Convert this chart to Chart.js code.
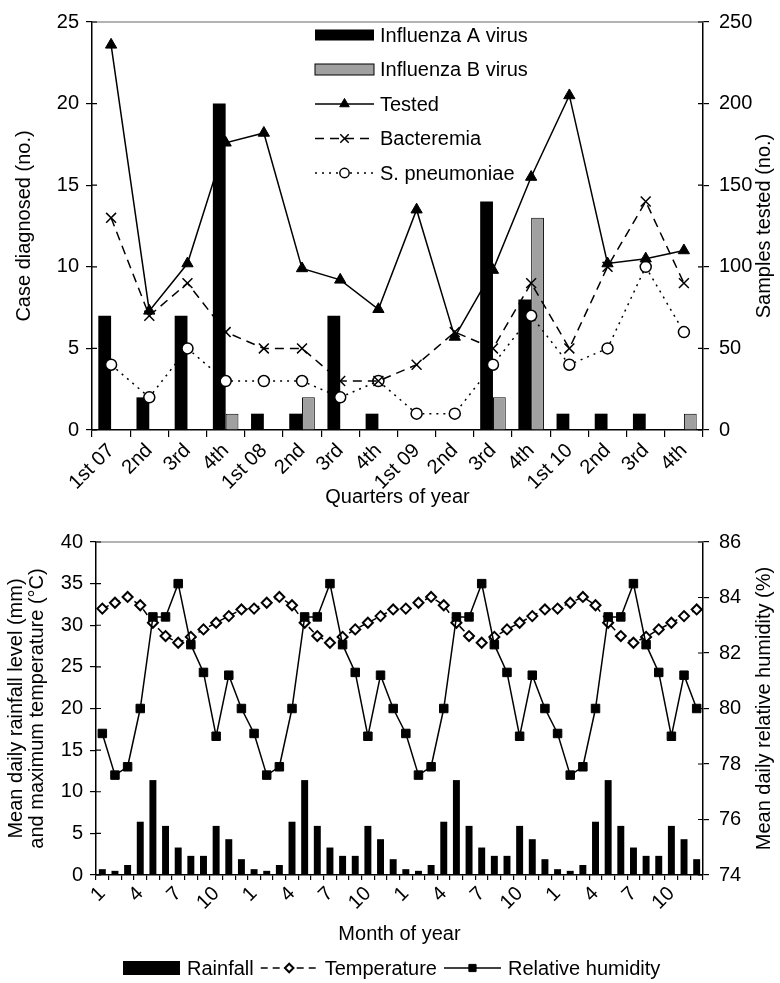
<!DOCTYPE html>
<html>
<head>
<meta charset="utf-8">
<script src="https://cdn.jsdelivr.net/npm/chart.js@4.4.0/dist/chart.umd.min.js"></script>
<style>
  body { margin: 0; background: #fff; }
  canvas { display: block; }
</style>
</head>
<body>
<canvas id="topChart" width="780" height="520"></canvas>
<canvas id="bottomChart" width="780" height="463"></canvas>
<script>
// ---- top chart data (quarters 2007-2010) ----
var quarters = ['1st 07', '2nd', '3rd', '4th', '1st 08', '2nd', '3rd', '4th', '1st 09', '2nd', '3rd', '4th', '1st 10', '2nd', '3rd', '4th'];
var fluA = [7, 2, 7, 20, 1, 1, 7, 1, 0, 0, 14, 8, 1, 1, 1, 0];
var fluB = [0, 0, 0, 1, 0, 2, 0, 0, 0, 0, 2, 13, 0, 0, 0, 1];
var tested = [236, 73, 102, 176, 182, 99, 92, 74, 135, 57, 98, 155, 205, 102, 105, 110];
var bacteremia = [13, 7, 9, 6, 5, 5, 3, 3, 4, 6, 5, 9, 5, 10, 14, 9];
var pneumoniae = [4, 2, 5, 3, 3, 3, 2, 3, 1, 1, 4, 7, 4, 5, 10, 6];

// ---- bottom chart data (months, 4 years) ----
var months = ['1', '2', '3', '4', '5', '6', '7', '8', '9', '10', '11', '12',
              '1', '2', '3', '4', '5', '6', '7', '8', '9', '10', '11', '12',
              '1', '2', '3', '4', '5', '6', '7', '8', '9', '10', '11', '12',
              '1', '2', '3', '4', '5', '6', '7', '8', '9', '10', '11', '12'];
var rainfall = [0.7, 0.5, 1.2, 6.4, 11.4, 5.9, 3.3, 2.3, 2.3, 5.9, 4.3, 1.9,
                0.7, 0.5, 1.2, 6.4, 11.4, 5.9, 3.3, 2.3, 2.3, 5.9, 4.3, 1.9,
                0.7, 0.5, 1.2, 6.4, 11.4, 5.9, 3.3, 2.3, 2.3, 5.9, 4.3, 1.9,
                0.7, 0.5, 1.2, 6.4, 11.4, 5.9, 3.3, 2.3, 2.3, 5.9, 4.3, 1.9];
var temperature = [32.0, 32.7, 33.4, 32.4, 30.3, 28.7, 27.9, 28.6, 29.5, 30.3, 31.1, 31.9,
                   32.0, 32.7, 33.4, 32.4, 30.3, 28.7, 27.9, 28.6, 29.5, 30.3, 31.1, 31.9,
                   32.0, 32.7, 33.4, 32.4, 30.3, 28.7, 27.9, 28.6, 29.5, 30.3, 31.1, 31.9,
                   32.0, 32.7, 33.4, 32.4, 30.3, 28.7, 27.9, 28.6, 29.5, 30.3, 31.1, 31.9];
var humidity = [79.1, 77.6, 77.9, 80.0, 83.3, 83.3, 84.5, 82.3, 81.3, 79.0, 81.2, 80.0,
                79.1, 77.6, 77.9, 80.0, 83.3, 83.3, 84.5, 82.3, 81.3, 79.0, 81.2, 80.0,
                79.1, 77.6, 77.9, 80.0, 83.3, 83.3, 84.5, 82.3, 81.3, 79.0, 81.2, 80.0,
                79.1, 77.6, 77.9, 80.0, 83.3, 83.3, 84.5, 82.3, 81.3, 79.0, 81.2, 80.0];

var FONT = "'Liberation Sans', Arial, sans-serif";
Chart.defaults.font.family = FONT;
Chart.defaults.font.size = 20;
Chart.defaults.color = '#000';

// draw a marker like the ones Chart.js uses, for the legend samples
function drawMarker(ctx, style, x, y, r) {
  ctx.beginPath();
  if (style === 'triangle') {
    ctx.moveTo(x, y - r);
    ctx.lineTo(x + r * 0.866, y + r / 2);
    ctx.lineTo(x - r * 0.866, y + r / 2);
    ctx.closePath();
  } else if (style === 'crossRot') {
    var d = r * 0.707;
    ctx.moveTo(x - d, y - d); ctx.lineTo(x + d, y + d);
    ctx.moveTo(x + d, y - d); ctx.lineTo(x - d, y + d);
    ctx.stroke();
    return;
  } else if (style === 'circle') {
    ctx.arc(x, y, r, 0, Math.PI * 2);
  } else if (style === 'rectRot') {
    ctx.moveTo(x, y - r); ctx.lineTo(x + r, y); ctx.lineTo(x, y + r); ctx.lineTo(x - r, y);
    ctx.closePath();
  } else if (style === 'rect') {
    var s = r * 0.707;
    ctx.rect(x - s, y - s, 2 * s, 2 * s);
  }
  ctx.fill();
  ctx.stroke();
}

// axis titles, top frame line, inward tick stubs and the legend
var frame = {
  id: 'frame',
  afterDraw: function (chart, args, opts) {
    var ctx = chart.ctx, a = chart.chartArea;
    ctx.save();
    ctx.strokeStyle = '#9a9a9a';
    ctx.lineWidth = 1.5;
    ctx.beginPath();
    ctx.moveTo(a.left, a.top);
    ctx.lineTo(a.right, a.top);
    ctx.stroke();

    ctx.strokeStyle = '#000';
    ctx.lineWidth = 1.2;
    ctx.beginPath();
    ['y', 'y2'].forEach(function (id) {
      var s = chart.scales[id];
      var x = id === 'y' ? a.left : a.right;
      var d = id === 'y' ? 5 : -5;
      s.ticks.forEach(function (t, i) {
        var py = s.getPixelForTick(i);
        ctx.moveTo(x, py);
        ctx.lineTo(x + d, py);
      });
    });
    ctx.stroke();

    ctx.fillStyle = '#000';
    ctx.font = '20px ' + FONT;
    ctx.textAlign = 'center';
    ctx.textBaseline = 'middle';
    ctx.fillText(opts.xTitle, (a.left + a.right) / 2, opts.xTitleY);
    var midY = (a.top + a.bottom) / 2;
    opts.leftTitle.forEach(function (line, i) {
      ctx.save();
      ctx.translate(opts.leftX[i], midY);
      ctx.rotate(-Math.PI / 2);
      ctx.fillText(line, 0, 0);
      ctx.restore();
    });
    ctx.save();
    ctx.translate(opts.rightX, midY);
    ctx.rotate(-Math.PI / 2);
    ctx.fillText(opts.rightTitle, 0, 0);
    ctx.restore();

    // legend
    var lg = opts.legend;
    var x = lg.x, y = lg.y;
    ctx.textAlign = 'left';
    lg.items.forEach(function (idx) {
      var ds = chart.data.datasets[idx];
      ctx.save();
      if (ds.type === 'bar' || !ds.type) {
        ctx.fillStyle = ds.backgroundColor;
        ctx.fillRect(x, y - lg.boxH / 2, lg.sampleW, lg.boxH);
        if (ds.borderWidth) {
          ctx.strokeStyle = ds.borderColor;
          ctx.lineWidth = ds.borderWidth;
          ctx.strokeRect(x, y - lg.boxH / 2, lg.sampleW, lg.boxH);
        }
      } else {
        ctx.strokeStyle = ds.borderColor;
        ctx.lineWidth = ds.borderWidth;
        ctx.setLineDash(ds.borderDash || []);
        ctx.beginPath();
        ctx.moveTo(x, y);
        ctx.lineTo(x + lg.sampleW, y);
        ctx.stroke();
        ctx.setLineDash([]);
        ctx.fillStyle = ds.pointBackgroundColor;
        ctx.lineWidth = ds.pointBorderWidth;
        drawMarker(ctx, ds.pointStyle, x + lg.sampleW / 2, y, ds.pointRadius * 0.85);
      }
      ctx.restore();
      ctx.fillText(ds.label, x + lg.sampleW + lg.textGap, y + 1);
      if (lg.vertical) {
        y += lg.rowH;
      } else {
        x += lg.sampleW + lg.textGap + ctx.measureText(ds.label).width + lg.itemGap;
      }
    });
    ctx.restore();
  }
};

function yAxis(pos, min, max, step, width, pad) {
  return {
    position: pos,
    min: min,
    max: max,
    ticks: { stepSize: step, padding: pad },
    grid: { drawOnChartArea: false, tickLength: 6, color: '#000', lineWidth: 1.2 },
    border: { color: '#000', width: 1.5 },
    afterFit: function (scale) { scale.width = width; }
  };
}

// ---------------- top chart ----------------
new Chart(document.getElementById('topChart').getContext('2d'), {
  type: 'bar',
  data: {
    labels: quarters,
    datasets: [
      { type: 'bar', label: 'Influenza A virus', data: fluA, yAxisID: 'y', order: 3,
        backgroundColor: '#000', borderWidth: 0,
        categoryPercentage: 0.67, barPercentage: 1 },
      { type: 'bar', label: 'Influenza B virus', data: fluB, yAxisID: 'y', order: 4,
        backgroundColor: '#a0a0a0', borderColor: '#000', borderWidth: 1,
        categoryPercentage: 0.67, barPercentage: 1 },
      { type: 'line', label: 'Tested', data: tested, yAxisID: 'y2', order: 0,
        borderColor: '#000', borderWidth: 1.5, tension: 0,
        pointStyle: 'triangle', pointRadius: 6.5, pointBackgroundColor: '#000',
        pointBorderColor: '#000', pointBorderWidth: 1 },
      { type: 'line', label: 'Bacteremia', data: bacteremia, yAxisID: 'y', order: 1,
        borderColor: '#000', borderWidth: 1.5, borderDash: [9, 6], tension: 0,
        pointStyle: 'crossRot', pointRadius: 7, pointBackgroundColor: '#000',
        pointBorderColor: '#000', pointBorderWidth: 1.5 },
      { type: 'line', label: 'S. pneumoniae', data: pneumoniae, yAxisID: 'y', order: 2,
        borderColor: '#000', borderWidth: 1.5, borderDash: [2, 5], tension: 0,
        pointStyle: 'circle', pointRadius: 5.5, pointBackgroundColor: '#fff',
        pointBorderColor: '#000', pointBorderWidth: 1.5 }
    ]
  },
  options: {
    responsive: false,
    animation: false,
    layout: { padding: { top: 12, left: 0, right: 0, bottom: 0 } },
    plugins: {
      legend: { display: false },
      tooltip: { enabled: false },
      frame: {
        xTitle: 'Quarters of year', xTitleY: 497,
        leftTitle: ['Case diagnosed (no.)'], leftX: [24],
        rightTitle: 'Samples tested (no.)', rightX: 764,
        legend: { x: 315, y: 35, vertical: true, rowH: 34.5, sampleW: 59, textGap: 6, boxH: 11,
                  items: [0, 1, 2, 3, 4] }
      }
    },
    scales: {
      x: {
        ticks: { autoSkip: false, minRotation: 45, maxRotation: 45, padding: 2 },
        grid: { drawOnChartArea: false, tickLength: 7, color: '#000', lineWidth: 1.2 },
        border: { color: '#000', width: 1.5 },
        afterFit: function (scale) { scale.height = 90; }
      },
      y: yAxis('left', 0, 25, 5, 92, 7),
      y2: yAxis('right', 0, 250, 50, 77, 10)
    }
  },
  plugins: [frame]
});

// ---------------- bottom chart ----------------
new Chart(document.getElementById('bottomChart').getContext('2d'), {
  type: 'bar',
  data: {
    labels: months,
    datasets: [
      { type: 'bar', label: 'Rainfall', data: rainfall, yAxisID: 'y', order: 3,
        backgroundColor: '#000', borderWidth: 0,
        categoryPercentage: 0.55, barPercentage: 1 },
      { type: 'line', label: 'Temperature', data: temperature, yAxisID: 'y', order: 1,
        borderColor: '#000', borderWidth: 1.5, borderDash: [7, 5], tension: 0,
        pointStyle: 'rectRot', pointRadius: 5, pointBackgroundColor: '#fff',
        pointBorderColor: '#000', pointBorderWidth: 2 },
      { type: 'line', label: 'Relative humidity', data: humidity, yAxisID: 'y2', order: 0,
        borderColor: '#000', borderWidth: 1.5, tension: 0,
        pointStyle: 'rect', pointRadius: 6, pointBackgroundColor: '#000',
        pointBorderColor: '#000', pointBorderWidth: 1 }
    ]
  },
  options: {
    responsive: false,
    animation: false,
    layout: { padding: { top: 22, left: 0, right: 0, bottom: 0 } },
    plugins: {
      legend: { display: false },
      tooltip: { enabled: false },
      frame: {
        xTitle: 'Month of year', xTitleY: 414,
        leftTitle: ['Mean daily rainfall level (mm)', 'and maximum temperature (°C)'], leftX: [16, 37],
        rightTitle: 'Mean daily relative humidity (%)', rightX: 764,
        legend: { x: 123, y: 448, vertical: false, sampleW: 57, textGap: 7, itemGap: 7, boxH: 14,
                  items: [0, 1, 2] }
      }
    },
    scales: {
      x: {
        ticks: {
          autoSkip: false, minRotation: 45, maxRotation: 45, padding: 2,
          callback: function (v, i) { return i % 3 === 0 ? months[i] : ''; }
        },
        grid: { drawOnChartArea: false, tickLength: 5, color: '#000', lineWidth: 1.2 },
        border: { color: '#000', width: 1.5 },
        afterFit: function (scale) { scale.height = 108; }
      },
      y: yAxis('left', 0, 40, 5, 96, 7),
      y2: yAxis('right', 74, 86, 2, 77, 10)
    }
  },
  plugins: [frame]
});
</script>
</body>
</html>
